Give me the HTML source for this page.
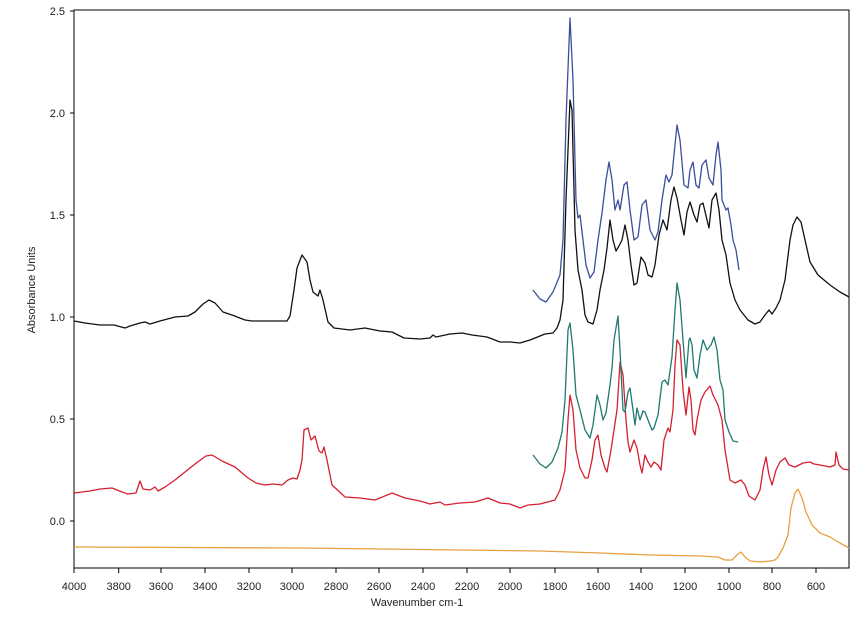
<!DOCTYPE html>
<html><head><meta charset="utf-8"><style>
body{margin:0;background:#fff;}
svg{display:block;font-family:"Liberation Sans",Arial,sans-serif;}
</style></head><body>
<svg width="864" height="621" viewBox="0 0 864 621">
<rect x="74" y="10" width="775" height="558" fill="none" stroke="#000" stroke-width="1"/>
<g stroke="#000" stroke-width="1">
<line x1="70" y1="11" x2="74" y2="11"/><line x1="70" y1="113" x2="74" y2="113"/><line x1="70" y1="215" x2="74" y2="215"/><line x1="70" y1="317" x2="74" y2="317"/><line x1="70" y1="419" x2="74" y2="419"/><line x1="70" y1="521" x2="74" y2="521"/>
<line x1="74" y1="568" x2="74" y2="573"/><line x1="118.7" y1="568" x2="118.7" y2="573"/><line x1="161" y1="568" x2="161" y2="573"/><line x1="205" y1="568" x2="205" y2="573"/><line x1="249" y1="568" x2="249" y2="573"/><line x1="292" y1="568" x2="292" y2="573"/><line x1="336" y1="568" x2="336" y2="573"/><line x1="379" y1="568" x2="379" y2="573"/><line x1="423" y1="568" x2="423" y2="573"/><line x1="467" y1="568" x2="467" y2="573"/><line x1="510" y1="568" x2="510" y2="573"/><line x1="555" y1="568" x2="555" y2="573"/><line x1="598" y1="568" x2="598" y2="573"/><line x1="641" y1="568" x2="641" y2="573"/><line x1="685" y1="568" x2="685" y2="573"/><line x1="729" y1="568" x2="729" y2="573"/><line x1="772" y1="568" x2="772" y2="573"/><line x1="816" y1="568" x2="816" y2="573"/>
</g>
<g font-size="11" fill="#222" text-anchor="end">
<text x="65" y="15">2.5</text><text x="65" y="117">2.0</text><text x="65" y="219">1.5</text><text x="65" y="321">1.0</text><text x="65" y="423">0.5</text><text x="65" y="525">0.0</text>
</g>
<g font-size="11" fill="#222" text-anchor="middle">
<text x="74" y="590">4000</text><text x="118.7" y="590">3800</text><text x="161" y="590">3600</text><text x="205" y="590">3400</text><text x="249" y="590">3200</text><text x="292" y="590">3000</text><text x="336" y="590">2800</text><text x="379" y="590">2600</text><text x="423" y="590">2400</text><text x="467" y="590">2200</text><text x="510" y="590">2000</text><text x="555" y="590">1800</text><text x="598" y="590">1600</text><text x="641" y="590">1400</text><text x="685" y="590">1200</text><text x="729" y="590">1000</text><text x="772" y="590">800</text><text x="816" y="590">600</text>
<text x="417" y="606">Wavenumber cm-1</text>
<text transform="translate(35,290) rotate(-90)">Absorbance Units</text>
</g>
<g fill="none" stroke-width="1.3" stroke-linejoin="round">
<polyline stroke="#e8a040" points="74,547 300,548 540,551 600,553 650,555 700,556 718,557 725,560 732,560 738,554 741,552 745,557 750,561 760,562 770,561 775,560 778,557 783,548 788,535 791,508 795,493 798,489 802,498 806,512 812,525 820,533 830,537 840,543 849,548"/>
<polyline stroke="#d42030" points="74,493 90,491 100,489 112,488 122,492 128,494 136,493 140,481 143,489 150,490 155,487 158,491 165,487 175,480 185,472 195,464 206,456 212,455 222,461 235,467 248,478 256,483 265,485 273,484 282,485 288,480 293,478 297,479 300,470 302,460 304,430 308,428 311,440 315,436 319,451 322,453 324,447 327,460 332,485 345,497 360,498 375,500 392,493 405,498 420,501 430,504 440,502 445,505 460,503 475,502 488,498 500,503 510,504 520,508 528,505 540,504 555,500 560,490 565,470 568,420 570,395 573,410 576,450 580,468 585,478 588,478 592,460 595,440 598,435 601,455 605,468 607,472 611,450 614,430 617,410 618,395 620,362 623,375 626,420 628,442 630,452 634,440 637,448 640,465 642,473 645,455 648,462 651,467 654,462 658,465 661,470 664,440 668,428 670,432 673,410 675,365 677,340 680,345 683,390 686,415 689,387 691,400 693,430 695,435 697,420 701,400 705,392 710,386 713,395 718,405 722,420 725,450 730,480 735,483 741,480 745,485 749,496 755,500 760,490 763,470 766,457 769,475 772,485 776,470 780,462 785,458 789,465 795,467 803,463 810,462 814,464 820,465 830,467 835,465 836,452 839,465 843,469 849,470"/>
<polyline stroke="#1f7a70" points="533,455 540,464 546,468 552,462 558,448 562,432 565,400 568,330 570,323 573,350 576,395 580,410 585,430 590,438 593,425 597,395 600,405 603,420 606,413 610,385 612,368 614,340 618,316 620,350 623,410 625,412 628,392 630,388 633,410 635,425 637,408 640,420 643,411 645,412 648,420 652,430 654,428 658,415 662,382 665,380 668,385 672,357 675,310 677,283 680,300 683,340 686,378 689,340 690,338 692,345 694,370 697,378 700,355 703,340 707,350 711,345 714,337 717,350 720,380 723,390 725,420 729,432 733,441 738,442"/>
<polyline stroke="#3a4f9a" points="533,290 540,299 546,302 553,292 560,275 563,240 566,120 570,18 573,80 576,200 578,218 580,215 583,240 586,265 590,278 594,272 598,240 602,213 606,180 609,162 612,180 615,210 618,200 620,210 624,185 627,182 630,210 634,240 638,237 642,205 646,200 650,230 655,240 658,232 662,200 666,175 669,182 672,175 677,125 680,140 684,185 688,188 690,170 693,162 696,185 699,188 702,165 706,160 709,178 713,185 716,155 718,142 721,170 722,200 726,210 728,208 731,225 733,240 736,250 739,270"/>
<polyline stroke="#111" points="74,321 85,323 100,325 114,325 125,328 130,326 140,323 145,322 150,324 160,321 175,317 188,316 195,312 203,304 209,300 215,303 223,312 232,315 245,320 252,321 270,321 287,321 290,316 294,290 297,268 302,255 307,262 310,280 313,292 318,296 320,290 323,300 328,322 334,328 350,330 365,328 380,331 392,332 404,338 420,339 430,338 433,335 436,337 450,334 462,333 472,335 487,337 500,342 510,342 520,343 530,340 545,334 553,333 557,328 560,320 563,300 566,200 570,100 572,110 575,230 578,270 582,290 585,315 588,322 593,324 597,310 600,290 604,270 607,248 610,220 613,240 616,251 619,246 622,240 625,225 628,240 631,265 634,285 637,283 641,257 645,263 648,275 652,277 655,265 659,235 663,220 667,230 671,200 674,187 677,198 681,220 684,235 687,212 690,202 694,215 697,222 700,205 703,203 707,220 709,228 712,200 716,193 719,210 722,240 726,255 730,283 735,300 740,310 748,320 755,324 760,322 765,315 769,310 772,314 776,308 780,300 785,280 790,240 793,225 797,217 801,222 805,240 810,262 818,275 830,285 840,292 849,297"/>
</g>
</svg>
</body></html>
